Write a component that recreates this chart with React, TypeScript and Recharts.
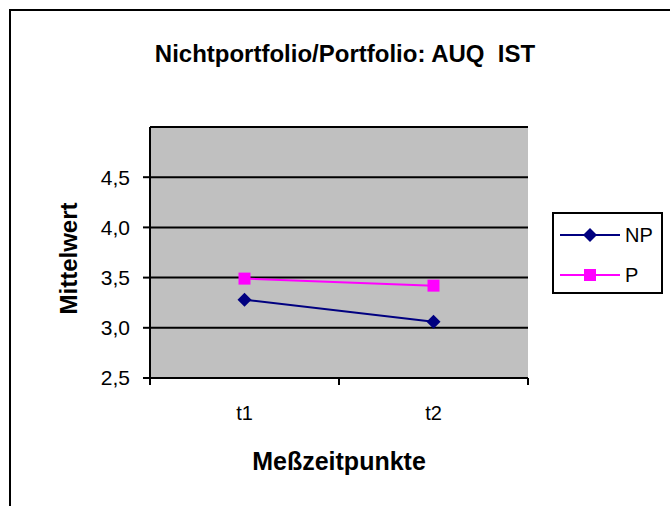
import { CartesianGrid, Line, LineChart, XAxis, YAxis, Label } from "recharts";

const categories = ["t1", "t2"];
const npValues = [3.28, 3.06];
const pValues = [3.49, 3.42];
const yTicks = [2.5, 3, 3.5, 4, 4.5];

const series = [
  { key: "NP", color: "#000080", shape: "diamond" },
  { key: "P", color: "#FF00FF", shape: "square" },
];

const data = categories.map((name, i) => ({
  name,
  NP: npValues[i],
  P: pValues[i],
}));

const FONT = '"Liberation Sans", Arial, sans-serif';
const X_TICK_SIZE = 7;
const X_TICK_MARGIN = 21;

function Marker({ cx, cy, shape, color }: any) {
  if (cx == null || cy == null) return null;
  if (shape === "diamond") {
    const r = 7;
    return (
      <polygon
        points={`${cx},${cy - r} ${cx + r},${cy} ${cx},${cy + r} ${cx - r},${cy}`}
        fill={color}
      />
    );
  }
  return <rect x={cx - 6} y={cy - 6} width={12} height={12} fill={color} />;
}

function CategoryTick({ x, y, payload }: any) {
  const half = payload?.offset || 94.5;
  const axisY = y - X_TICK_SIZE - X_TICK_MARGIN;
  return (
    <g>
      <line x1={x - half} x2={x - half} y1={axisY} y2={axisY + X_TICK_SIZE} stroke="#000" strokeWidth={2} />
      <line x1={x + half} x2={x + half} y1={axisY} y2={axisY + X_TICK_SIZE} stroke="#000" strokeWidth={2} />
      <text x={x} y={y} dy="0.71em" textAnchor="middle" fontSize={20} fontFamily={FONT} fill="#000">
        {payload.value}
      </text>
    </g>
  );
}

function LegendIcon({ shape, color }: { shape: string; color: string }) {
  return (
    <svg width={60} height={14} style={{ display: "block" }}>
      <line x1={0} x2={60} y1={7} y2={7} stroke={color} strokeWidth={2} />
      <Marker cx={30} cy={7} shape={shape} color={color} />
    </svg>
  );
}

export default function App() {
  return (
    <div
      style={{
        position: "absolute",
        left: 0,
        top: 0,
        width: 670,
        height: 506,
        overflow: "hidden",
        background: "#fff",
        fontFamily: FONT,
      }}
    >
      <div
        style={{
          position: "absolute",
          left: 9,
          top: 9,
          width: 720,
          height: 600,
          borderTop: "2px solid #000",
          borderLeft: "2px solid #000",
        }}
      />
      <div
        style={{
          position: "absolute",
          left: 0,
          top: 42,
          width: 690,
          textAlign: "center",
          fontSize: 24,
          lineHeight: "24px",
          fontWeight: "bold",
          whiteSpace: "nowrap",
        }}
      >
        Nichtportfolio/Portfolio: AUQ&nbsp; IST
      </div>

      <div style={{ position: "absolute", left: 0, top: 0 }}>
        <LineChart
          width={670}
          height={506}
          data={data}
          margin={{ top: 127, right: 142, bottom: 38, left: 50 }}
        >
          <CartesianGrid
            horizontal
            vertical={false}
            fill="#C0C0C0"
            stroke="#000"
            strokeWidth={2}
          />
          <XAxis
            dataKey="name"
            scale="band"
            height={90}
            axisLine={{ stroke: "#000", strokeWidth: 2 }}
            tickLine={false}
            tickSize={X_TICK_SIZE}
            tickMargin={X_TICK_MARGIN}
            tick={<CategoryTick />}
            interval={0}
          >
            <Label
              value="Meßzeitpunkte"
              position="insideTop"
              offset={74}
              style={{ fontSize: 25, fontWeight: "bold", fontFamily: FONT, fill: "#000" }}
            />
          </XAxis>
          <YAxis
            width={100}
            domain={[2.5, 5]}
            ticks={yTicks}
            allowDataOverflow
            axisLine={{ stroke: "#000", strokeWidth: 2 }}
            tickLine={{ stroke: "#000", strokeWidth: 2 }}
            tickSize={7}
            tickMargin={13}
            tick={{ fontSize: 21, fill: "#000", fontFamily: FONT }}
            tickFormatter={(v: number) => v.toFixed(1).replace(".", ",")}
          >
            <Label
              content={({ viewBox }: any) => {
                const cx = viewBox.x + 18;
                const cy = viewBox.y + viewBox.height / 2 + 6;
                return (
                  <text
                    x={cx}
                    y={cy}
                    transform={`rotate(-90 ${cx} ${cy})`}
                    textAnchor="middle"
                    dominantBaseline="central"
                    fontSize={24}
                    fontWeight="bold"
                    fontFamily={FONT}
                    fill="#000"
                  >
                    Mittelwert
                  </text>
                );
              }}
            />
          </YAxis>
          {series.map((s) => (
            <Line
              key={s.key}
              dataKey={s.key}
              stroke={s.color}
              strokeWidth={2}
              isAnimationActive={false}
              dot={(p: any) => (
                <Marker key={`${s.key}-${p.index}`} cx={p.cx} cy={p.cy} shape={s.shape} color={s.color} />
              )}
              activeDot={false}
            />
          ))}
        </LineChart>
      </div>

      <div
        style={{
          position: "absolute",
          left: 552,
          top: 212,
          width: 107,
          height: 78,
          border: "2px solid #000",
          background: "#fff",
          boxSizing: "content-box",
        }}
      >
        {series.map((s, i) => (
          <div
            key={s.key}
            style={{
              position: "absolute",
              left: 6,
              top: 14 + i * 40,
              display: "flex",
              alignItems: "center",
              gap: 5,
              fontSize: 20,
              lineHeight: "14px",
            }}
          >
            <LegendIcon shape={s.shape} color={s.color} />
            <span>{s.key}</span>
          </div>
        ))}
      </div>
    </div>
  );
}
